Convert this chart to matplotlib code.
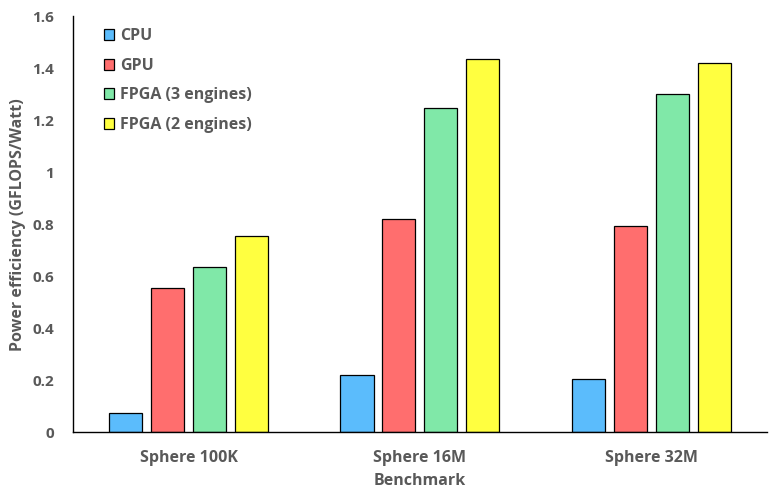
import matplotlib
matplotlib.use("Agg")
import matplotlib.pyplot as plt
import numpy as np

categories = ["Sphere 100K", "Sphere 16M", "Sphere 32M"]
series_names = ["CPU", "GPU", "FPGA (3 engines)", "FPGA (2 engines)"]
cpu = [0.073, 0.220, 0.204]
gpu = [0.555, 0.821, 0.794]
fpga3 = [0.636, 1.245, 1.299]
fpga2 = [0.756, 1.434, 1.419]
yticks = [0, 0.2, 0.4, 0.6, 0.8, 1.0, 1.2, 1.4, 1.6]
ytick_labels = ["0", "0.2", "0.4", "0.6", "0.8", "1", "1.2", "1.4", "1.6"]
colors = ["#5BBCFC", "#FF6E6E", "#80E8A8", "#FFFF40"]

txt = "#595959"
plt.rcParams['font.family'] = ['Open Sans', 'DejaVu Sans']
plt.rcParams['font.weight'] = 'bold'

fig = plt.figure(figsize=(7.73, 5.0), dpi=100)
ax = fig.add_axes([0.0948, 0.1354, 0.8970, 0.8326])

x = np.arange(len(categories))
width = 0.143
step = 0.1817
data = [cpu, gpu, fpga3, fpga2]
for i, (vals, name, c) in enumerate(zip(data, series_names, colors)):
    ax.bar(x + (i - 1.5) * step, vals, width, color=c, edgecolor="black",
           linewidth=0.9, label=name, zorder=2)

ax.set_xlim(-0.5, 2.5)
ax.set_ylim(0, 1.6)
ax.set_yticks(yticks)
ax.set_yticklabels(ytick_labels)
ax.set_xticks(x)
ax.set_xticklabels(categories)
ax.tick_params(axis='y', length=0, labelsize=11, colors=txt, pad=14)
ax.tick_params(axis='x', length=0, labelsize=11.5, colors=txt, pad=13)
for lab in ax.get_xticklabels() + ax.get_yticklabels():
    lab.set_fontweight('bold')
for s in ["top", "right"]:
    ax.spines[s].set_visible(False)
for s in ["left", "bottom"]:
    ax.spines[s].set_linewidth(1.0)
    ax.spines[s].set_color("black")

ax.set_xlabel("Benchmark", fontsize=11.5, color=txt, fontweight='bold', labelpad=5)
ax.set_ylabel("Power efficiency (GFLOPS/Watt)", fontsize=11.5, color=txt, fontweight='bold', labelpad=4)

leg = ax.legend(loc="upper left", bbox_to_anchor=(0.035, 0.986), frameon=False,
                fontsize=11.5, handlelength=0.65, handleheight=0.65, handletextpad=0.35,
                labelspacing=0.85, borderaxespad=0)
for t in leg.get_texts():
    t.set_color(txt)
    t.set_fontweight('bold')

fig.savefig("out.png", dpi=100)
